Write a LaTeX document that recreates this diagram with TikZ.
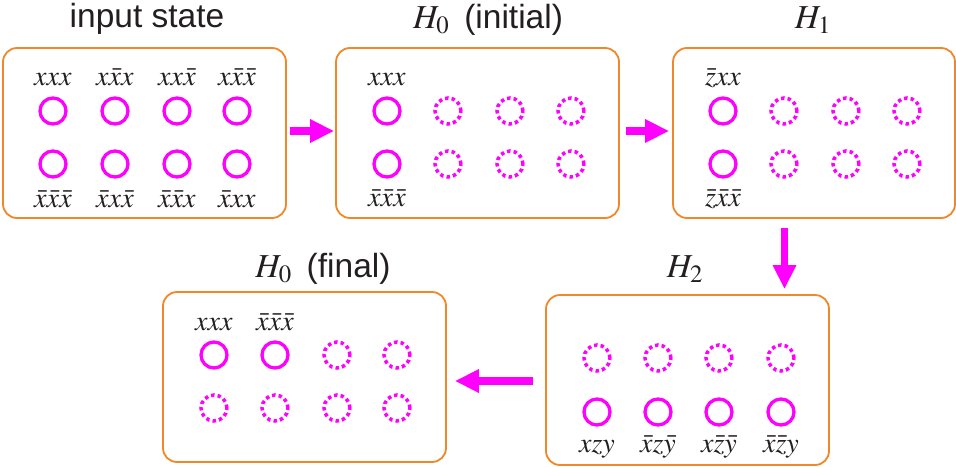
\documentclass[tikz,border=0pt]{standalone}
\usepackage{mathptmx}
\usepackage{fontspec}
\setmainfont{Liberation Serif}
\setsansfont{Liberation Sans}
\usetikzlibrary{arrows.meta}
\definecolor{mag}{RGB}{255,0,255}
\definecolor{org}{RGB}{240,135,40}
\definecolor{txt}{RGB}{35,31,32}
\tikzset{
  box/.style={draw=org, line width=1.8pt, rounded corners=14pt, rectangle, inner sep=0, minimum width=283pt, minimum height=170pt},
  sc/.style={circle, draw=mag, line width=3.3pt, minimum size=26pt, inner sep=0},
  dc/.style={sc, line width=3.5pt, dash pattern=on 3.5pt off 3.1pt},
  lbl/.style={font=\fontsize{28}{30}\selectfont, text=txt, anchor=base, inner sep=0},
  ttl/.style={font=\sffamily\fontsize{33.5}{36}\selectfont, text=txt, anchor=base, inner sep=0},
  arr/.style={-{Triangle[length=24pt,width=22pt]}, draw=mag, line width=7.5pt}
}
\begin{document}
\begin{tikzpicture}[x=1pt,y=-1pt]
\useasboundingbox (0,0) rectangle (956,466);
% boxes
\node[box] (b1) at (144.5,133) {};
\node[box] (b2) at (477.5,133) {};
\node[box, minimum width=282pt] (b3) at (814,133) {};
\node[box] (b4) at (304.5,377) {};
\node[box] (b5) at (687.5,380) {};
% titles
\node[ttl] (t1) at (147,27) {input state};
\node[ttl] (t2) at (488,28) {$H_0$\hspace{15pt}(initial)};
\node[ttl] (t3) at (813,28) {$H_1$};
\node[ttl] (t4) at (323,277) {$H_0$\hspace{15pt}(final)};
\node[ttl] (t5) at (685,277) {$H_2$};
% box 1
\node[sc] (a1) at (53,111) {};
\node[sc] (a2) at (115,111) {};
\node[sc] (a3) at (177,111) {};
\node[sc] (a4) at (237,111) {};
\node[sc] (a5) at (53,164) {};
\node[sc] (a6) at (115,164) {};
\node[sc] (a7) at (177,164) {};
\node[sc] (a8) at (237,164) {};
\node[lbl] (la1) at (53,85) {$xxx$};
\node[lbl] (la2) at (115,85) {$x\bar{x}x$};
\node[lbl] (la3) at (177,85) {$xx\bar{x}$};
\node[lbl] (la4) at (237,85) {$x\bar{x}\bar{x}$};
\node[lbl] (la5) at (53,207) {$\bar{x}\bar{x}\bar{x}$};
\node[lbl] (la6) at (115,207) {$\bar{x}x\bar{x}$};
\node[lbl] (la7) at (177,207) {$\bar{x}\bar{x}x$};
\node[lbl] (la8) at (237,207) {$\bar{x}xx$};
% box 2
\node[sc] (c1) at (387,111) {};
\node[dc] (c2) at (448,111) {};
\node[dc] (c3) at (510,111) {};
\node[dc] (c4) at (571,111) {};
\node[sc] (c5) at (387,164) {};
\node[dc] (c6) at (448,164) {};
\node[dc] (c7) at (510,164) {};
\node[dc] (c8) at (571,164) {};
\node[lbl] (lc1) at (387,85) {$xxx$};
\node[lbl] (lc5) at (387,206) {$\bar{x}\bar{x}\bar{x}$};
% box 3
\node[sc] (d1) at (723,111) {};
\node[dc] (d2) at (784,111) {};
\node[dc] (d3) at (846,111) {};
\node[dc] (d4) at (907,111) {};
\node[sc] (d5) at (723,164) {};
\node[dc] (d6) at (784,164) {};
\node[dc] (d7) at (846,164) {};
\node[dc] (d8) at (907,164) {};
\node[lbl] (ld1) at (723,85) {$\bar{z}xx$};
\node[lbl] (ld5) at (723,206) {$\bar{z}\bar{x}\bar{x}$};
% box 4
\node[sc] (e1) at (214,355) {};
\node[sc] (e2) at (275,355) {};
\node[dc] (e3) at (337,355) {};
\node[dc] (e4) at (397,355) {};
\node[dc] (e5) at (214,408) {};
\node[dc] (e6) at (275,408) {};
\node[dc] (e7) at (337,408) {};
\node[dc] (e8) at (397,408) {};
\node[lbl] (le1) at (214,330) {$xxx$};
\node[lbl] (le2) at (275,330) {$\bar{x}\bar{x}\bar{x}$};
% box 5
\node[dc] (f1) at (597,358) {};
\node[dc] (f2) at (658,358) {};
\node[dc] (f3) at (719,358) {};
\node[dc] (f4) at (781,358) {};
\node[sc] (f5) at (597,412) {};
\node[sc] (f6) at (658,412) {};
\node[sc] (f7) at (719,412) {};
\node[sc] (f8) at (781,412) {};
\node[lbl] (lf5) at (597,452) {$xzy$};
\node[lbl] (lf6) at (658,452) {$\bar{x}z\bar{y}$};
\node[lbl] (lf7) at (719,452) {$x\bar{z}\bar{y}$};
\node[lbl] (lf8) at (781,452) {$\bar{x}\bar{z}y$};
% arrows
\draw[arr] ([shift={(3,-2)}]b1.east) -- ([shift={(-1,-2)}]b2.west);
\draw[arr] ([shift={(6,-2)}]b2.east) -- ([shift={(-3,-2)}]b3.west);
\draw[arr] ([shift={(-29.5,9)}]b3.south) -- ([shift={(97,-5)}]b5.north);
\draw[arr] ([shift={(-12,1)}]b5.west) -- ([shift={(8,4)}]b4.east);
\end{tikzpicture}
\end{document}
